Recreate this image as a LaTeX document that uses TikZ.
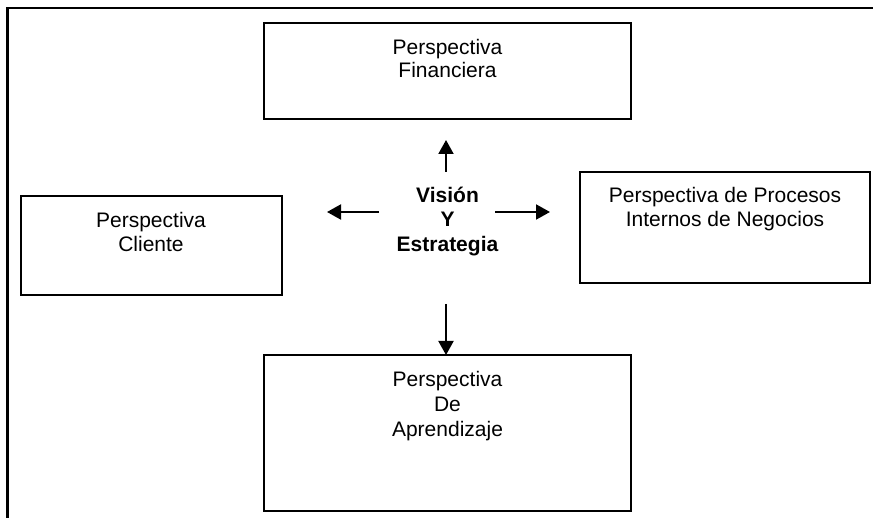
\documentclass[tikz,border=0pt]{standalone}
\usepackage{fontspec}
\setmainfont{Liberation Sans}
\usetikzlibrary{arrows.meta}
\begin{document}
\begin{tikzpicture}[x=1pt,y=1pt,
  box/.style={draw=black, line width=2.1pt, inner sep=0pt, outer sep=0pt},
  txt/.style={inner sep=0pt, anchor=base, font=\fontsize{21}{24.5}\selectfont},
  btxt/.style={txt, font=\fontsize{21}{24.5}\selectfont\bfseries},
  arr/.style={line width=2pt, -{Triangle[length=14pt,width=15pt]}}]
\useasboundingbox (0,0) rectangle (873,-518);
% outer frame (right and bottom edges off the picture)
\draw[line width=2.1pt] (7.5,-520) -- (7.5,-8.3) -- (875,-8.3);
% boxes
\node[box, minimum width=367pt, minimum height=96pt] (fin) at (447.5,-71) {};
\node[box, minimum width=261pt, minimum height=99pt] (cli) at (151.5,-245.5) {};
\node[box, minimum width=290pt, minimum height=111pt] (pro) at (725,-227.5) {};
\node[box, minimum width=367pt, minimum height=156pt] (apr) at (447.5,-433) {};
% texts
\node[txt] (fin1) at (447.5,-55) {Perspectiva};
\node[txt] (fin2) at (447.5,-78) {Financiera};
\node[txt] (cli1) at (151,-228) {Perspectiva};
\node[txt] (cli2) at (151,-252) {Cliente};
\node[txt] (pro1) at (725,-203) {Perspectiva de Procesos};
\node[txt] (pro2) at (725,-227) {Internos de Negocios};
\node[txt] (apr1) at (447.5,-387) {Perspectiva};
\node[txt] (apr2) at (447.5,-411.5) {De};
\node[txt] (apr3) at (447.5,-436) {Aprendizaje};
\node[btxt] (vis1) at (447.5,-203) {Visión};
\node[btxt] (vis2) at (447.5,-227) {Y};
\node[btxt] (vis3) at (447.5,-252) {Estrategia};
% arrows
\coordinate (uS) at (446,-172);
\coordinate (uE) at (446,-140);
\coordinate (lS) at (379,-212);
\coordinate (lE) at (327,-212);
\coordinate (rS) at (495,-212);
\coordinate (rE) at (550,-212);
\coordinate (dS) at (446,-304);
\draw[arr] (uS) -- (uE);
\draw[arr] (lS) -- (lE);
\draw[arr] (rS) -- (rE);
\draw[arr] (dS) -- (dS |- apr.north);
\end{tikzpicture}
\end{document}
